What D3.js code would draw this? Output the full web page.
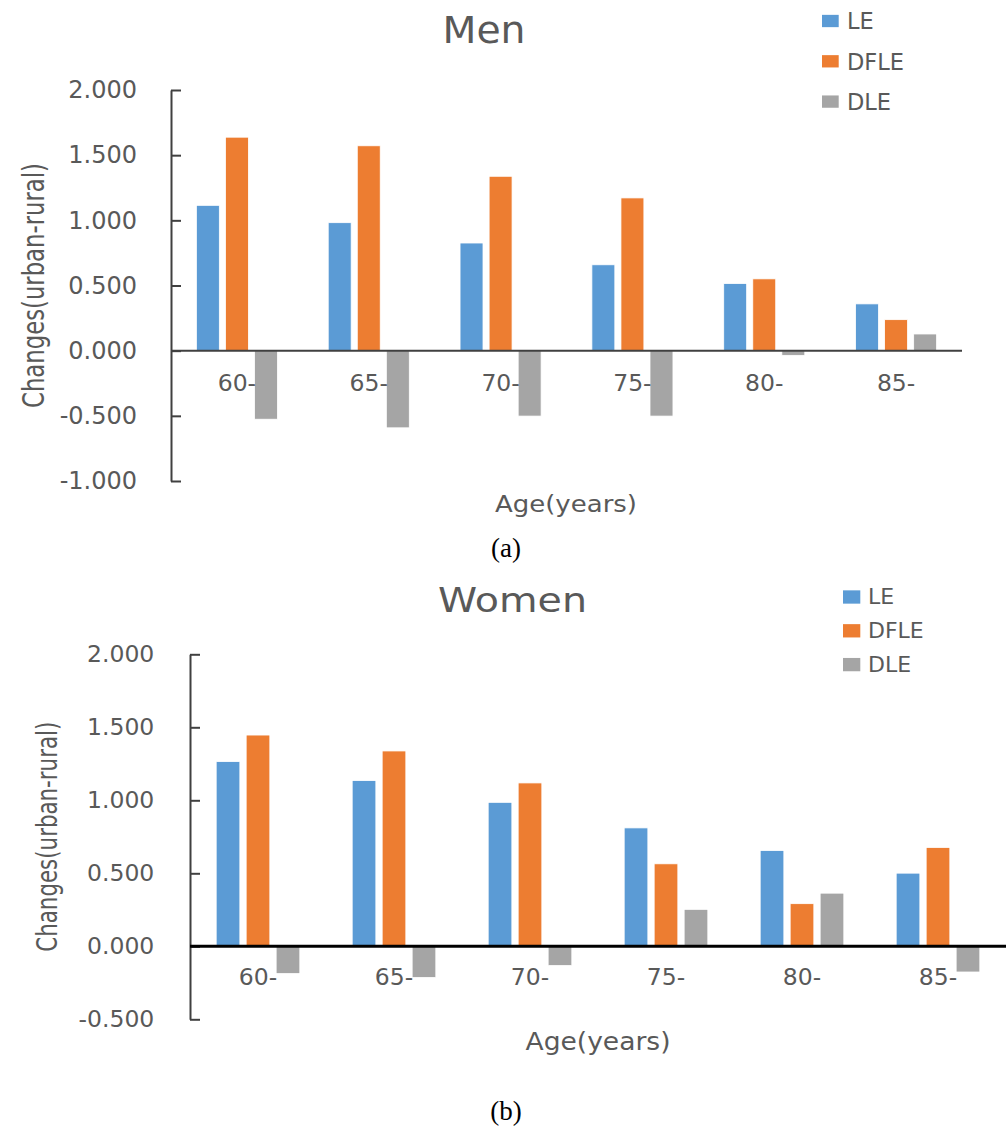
<!DOCTYPE html>
<html>
<head>
<meta charset="utf-8">
<script src="https://cdn.jsdelivr.net/npm/d3@7"></script>
<style>
  html, body { margin: 0; padding: 0; background: #fff; }
  svg { display: block; }
  text { font-family: "DejaVu Sans", sans-serif; fill: #595959; }
</style>
</head>
<body>
<svg id="chart" width="1008" height="1126"></svg>
<script>
// ---------- data ----------
const ages = ["60-", "65-", "70-", "75-", "80-", "85-"];
const seriesNames = ["LE", "DFLE", "DLE"];
const seriesColors = ["#5B9BD5", "#ED7D31", "#A5A5A5"];

const menLE   = [1.115, 0.982, 0.826, 0.659, 0.515, 0.359];
const menDFLE = [1.638, 1.572, 1.338, 1.172, 0.551, 0.238];
const menDLE  = [-0.526, -0.592, -0.502, -0.502, -0.036, 0.128];

const womenLE   = [1.265, 1.135, 0.986, 0.811, 0.656, 0.501];
const womenDFLE = [1.447, 1.338, 1.119, 0.565, 0.292, 0.677];
const womenDLE  = [-0.187, -0.214, -0.132, 0.253, 0.364, -0.176];

const menTicks   = [-1, -0.5, 0, 0.5, 1, 1.5, 2];
const womenTicks = [-0.5, 0, 0.5, 1, 1.5, 2];

const yTitle = "Changes(urban-rural)";
const xTitle = "Age(years)";

// ---------- panel layout ----------
const panels = [
  {
    title: "Men", caption: "(a)", series: [menLE, menDFLE, menDLE], ticks: menTicks,
    x0: 171, x1: 962, yTop: 90, yBot: 481,
    titleX: 484, titleY: 43, titleSize: 38, titleLen: 83,
    yTitleX: 44, yTitleY: 285.5, yTitleSize: 23, yTitleLen: 245,
    tickSize: 24, tickPad: 34, catY: 391, catSize: 23.5,
    xTitleX: 566, xTitleY: 512, xTitleSize: 23, xTitleLen: 142,
    legX: 822, legTextX: 847, legY0: 29.3, legStep: 40.3, sqW: 16.7, sqH: 12.3, legSize: 22.5, legOff: 8.3,
    capX: 506, capY: 557,
    zeroColor: "#404040", zeroW: 2
  },
  {
    title: "Women", caption: "(b)", series: [womenLE, womenDFLE, womenDLE], ticks: womenTicks,
    x0: 190, x1: 1006, yTop: 654.3, yBot: 1019.3,
    titleX: 512.5, titleY: 611.7, titleSize: 33, titleLen: 149,
    yTitleX: 56.5, yTitleY: 836.7, yTitleSize: 22, yTitleLen: 230,
    tickSize: 23.5, tickPad: 35.7, catY: 985, catSize: 23.5,
    xTitleX: 598, xTitleY: 1050, xTitleSize: 24, xTitleLen: 145,
    legX: 843, legTextX: 868, legY0: 604, legStep: 33.8, sqW: 17.3, sqH: 13.3, legSize: 22, legOff: 7,
    capX: 506, capY: 1120,
    zeroColor: "#000000", zeroW: 3
  }
];

const svg = d3.select("#chart");
const fmt = d => d3.format(".3f")(d).replace("\u2212", "-");

panels.forEach(p => {
  const g = svg.append("g");
  const dom = d3.extent(p.ticks);
  const y = d3.scaleLinear().domain(dom).range([p.yBot, p.yTop]);
  const x = d3.scaleBand().domain(ages).range([p.x0, p.x1]).paddingInner(0).paddingOuter(0);
  const W = x.bandwidth();
  const xi = d3.scaleBand().domain(seriesNames)
    .range([-0.3075 * W, 0.3075 * W]).paddingInner(0.21).paddingOuter(0);

  // bars
  seriesNames.forEach((s, si) => {
    const vals = p.series[si];
    g.append("g").selectAll("rect")
      .data(ages.map((a, i) => ({ a, v: vals[i] })))
      .join("rect")
      .attr("x", d => x(d.a) + W / 2 + xi(s))
      .attr("width", xi.bandwidth())
      .attr("y", d => Math.min(y(d.v), y(0)))
      .attr("height", d => Math.abs(y(d.v) - y(0)))
      .attr("fill", seriesColors[si])
      .attr("stroke", "#ffffff")
      .attr("stroke-width", 0.8);
  });

  // y axis
  const yAxis = d3.axisLeft(y).tickValues(p.ticks)
    .tickFormat(fmt)
    .tickSizeInner(-10).tickSizeOuter(0).tickPadding(p.tickPad);
  const ag = g.append("g").attr("transform", `translate(${p.x0},0)`).call(yAxis);
  ag.select(".domain").attr("stroke", "#404040").attr("stroke-width", 2);
  ag.selectAll(".tick line").attr("stroke", "#404040").attr("stroke-width", 2);
  ag.selectAll(".tick text")
    .style("font-family", "'DejaVu Sans', sans-serif")
    .style("font-size", p.tickSize + "px")
    .attr("fill", "#595959");

  // zero line
  g.append("line")
    .attr("x1", p.x0).attr("x2", p.x1)
    .attr("y1", y(0)).attr("y2", y(0))
    .attr("stroke", p.zeroColor).attr("stroke-width", p.zeroW);

  // category labels
  g.append("g").selectAll("text")
    .data(ages).join("text")
    .attr("x", d => x(d) + W / 2)
    .attr("y", p.catY)
    .attr("text-anchor", "middle")
    .style("font-size", p.catSize + "px")
    .text(d => d);

  // title
  g.append("text")
    .attr("x", p.titleX).attr("y", p.titleY)
    .attr("text-anchor", "middle")
    .attr("textLength", p.titleLen).attr("lengthAdjust", "spacingAndGlyphs")
    .style("font-size", p.titleSize + "px")
    .text(p.title);

  // y title
  g.append("text")
    .attr("transform", `translate(${p.yTitleX},${p.yTitleY}) scale(1.3,1) rotate(-90)`)
    .attr("text-anchor", "middle")
    .attr("textLength", p.yTitleLen).attr("lengthAdjust", "spacingAndGlyphs")
    .style("font-size", p.yTitleSize + "px")
    .text(yTitle);

  // x title
  g.append("text")
    .attr("x", p.xTitleX).attr("y", p.xTitleY)
    .attr("text-anchor", "middle")
    .attr("textLength", p.xTitleLen).attr("lengthAdjust", "spacingAndGlyphs")
    .style("font-size", p.xTitleSize + "px")
    .text(xTitle);

  // legend
  const lg = g.append("g");
  seriesNames.forEach((s, si) => {
    const by = p.legY0 + si * p.legStep;
    lg.append("rect")
      .attr("x", p.legX).attr("y", by - p.legOff - p.sqH / 2)
      .attr("width", p.sqW).attr("height", p.sqH)
      .attr("fill", seriesColors[si]);
    lg.append("text")
      .attr("x", p.legTextX).attr("y", by)
      .style("font-size", p.legSize + "px")
      .text(s);
  });

  // caption
  g.append("text")
    .attr("x", p.capX).attr("y", p.capY)
    .attr("text-anchor", "middle")
    .style("font-family", "'Liberation Serif', 'DejaVu Serif', serif")
    .style("font-size", "27px")
    .style("fill", "#000")
    .text(p.caption);
});
</script>
</body>
</html>
